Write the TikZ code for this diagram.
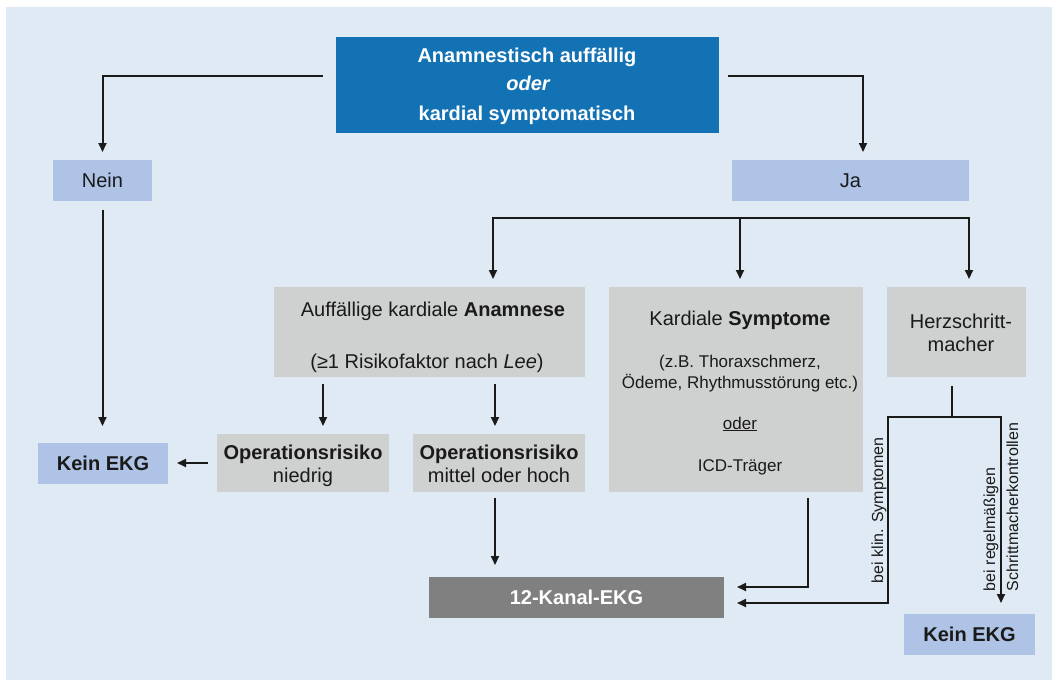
\documentclass[tikz,border=0pt]{standalone}
\usepackage{fontspec}
\setmainfont{Liberation Sans}
\usetikzlibrary{arrows.meta}
\definecolor{panel}{HTML}{E0EAF4}
\definecolor{lblue}{HTML}{AEC3E6}
\definecolor{lgray}{HTML}{CFD0D0}
\definecolor{dgray}{HTML}{808080}
\definecolor{topblue}{HTML}{1372B4}
\definecolor{ink}{HTML}{1A1A1A}
\begin{document}
\begin{tikzpicture}[x=1pt,y=-1pt,
  box/.style={inner sep=0pt,outer sep=0pt,text=ink},
  txt/.style={inner sep=0pt,outer sep=0pt,anchor=base,text=ink},
  fA/.style={font=\fontsize{20}{24}\selectfont},
  fB/.style={font=\fontsize{17}{20}\selectfont},
  fC/.style={font=\fontsize{16}{19}\selectfont},
  conn/.style={draw=ink,line width=2pt},
  arr/.style={conn,-{Triangle[length=9pt,width=8pt]}},
  both/.style={conn,{Triangle[length=9pt,width=8pt]}-{Triangle[length=9pt,width=8pt]}}]
\fill[white] (0,0) rectangle (1052,680);
\useasboundingbox (0,0) rectangle (1052,680);
\fill[panel] (6,7) rectangle (1052,680);

% top box
\node[box,fill=topblue,minimum width=383pt,minimum height=96pt] (top) at (527.5,85) {};
\node[txt,fA,text=white] (topA) at (527,62) {\bfseries Anamnestisch auffällig};
\node[txt,fA,text=white] (topB) at (528,90) {\bfseries\itshape oder};
\node[txt,fA,text=white] (topC) at (527,120) {\bfseries kardial symptomatisch};

% Nein / Ja
\node[box,fA,fill=lblue,minimum width=99pt,minimum height=41pt] (nein) at (102.5,180.5) {Nein};
\node[box,fA,fill=lblue,minimum width=237pt,minimum height=41pt] (ja) at (850.5,180.5) {Ja};

% Kein EKG left
\node[box,fA,fill=lblue,minimum width=130pt,minimum height=41pt] (keinL) at (103,463.5) {\textbf{Kein EKG}};

% Anamnese box
\node[box,fill=lgray,minimum width=311pt,minimum height=90pt] (anam) at (429.5,332) {};
\node[txt,fA] (anamA) at (433,316) {Auffällige kardiale \textbf{Anamnese}};
\node[txt,fA] (anamB) at (427,368) {(≥1 Risikofaktor nach \textit{Lee})};

% Kardiale Symptome box
\node[box,fill=lgray,minimum width=254pt,minimum height=205pt] (kard) at (736,389.5) {};
\node[txt,fA] (kardA) at (740,325) {Kardiale \textbf{Symptome}};
\node[txt,fB] (kardB) at (740,367) {(z.B. Thoraxschmerz,};
\node[txt,fB] (kardC) at (740,388) {Ödeme, Rhythmusstörung etc.)};
\node[txt,fB] (kardD) at (740,429) {\underline{oder}};
\node[txt,fB] (kardE) at (740,471) {ICD-Träger};

% Herzschrittmacher box
\node[box,fill=lgray,minimum width=139pt,minimum height=90pt] (herz) at (956.5,332) {};
\node[txt,fA] (herzA) at (961,328.3) {Herzschritt-};
\node[txt,fA] (herzB) at (961,351.7) {macher};

% Operationsrisiko boxes
\node[box,fill=lgray,minimum width=172pt,minimum height=58pt] (opN) at (303,463) {};
\node[txt,fA] (opNA) at (303,459) {\textbf{Operationsrisiko}};
\node[txt,fA] (opNB) at (303,482.5) {niedrig};
\node[box,fill=lgray,minimum width=172pt,minimum height=58pt] (opM) at (499,463) {};
\node[txt,fA] (opMA) at (499,459) {\textbf{Operationsrisiko}};
\node[txt,fA] (opMB) at (499,482.5) {mittel oder hoch};

% 12-Kanal-EKG
\node[box,fA,fill=dgray,text=white,minimum width=295pt,minimum height=41pt] (ekg) at (576.5,597.5) {\textbf{12-Kanal-EKG}};

% Kein EKG right
\node[box,fA,fill=lblue,minimum width=131pt,minimum height=41pt] (keinR) at (969.5,634.5) {\textbf{Kein EKG}};

% rotated labels
\node[txt,fC,rotate=90,anchor=base west] (lblK) at (883,583) {bei klin. Symptomen};
\node[txt,fC,rotate=90,anchor=base west] (lblR1) at (995,591) {bei regelmäßigen};
\node[txt,fC,rotate=90,anchor=base west] (lblR2) at (1018,591) {Schrittmacherkontrollen};

% connectors
\draw[arr] ([xshift=-13pt,yshift=9pt]top.west) -| ([yshift=8pt]nein.north);
\draw[arr] ([xshift=9pt,yshift=9pt]top.east) -| ([xshift=12.5pt,yshift=8pt]ja.north);
\draw[arr] ([yshift=-9pt]nein.south) -- ([yshift=17pt]nein.south |- keinL.north);

\coordinate (b1) at (493,218);
\coordinate (b2) at (740,218);
\coordinate (b3) at (969,218);
\draw[both] ([yshift=8pt]b1 |- anam.north) -- (b1) -- (b3) -- ([yshift=8pt]b3 |- herz.north);
\draw[arr] (b2) -- ([yshift=8pt]b2 |- kard.north);

\coordinate (a1) at (323,384);
\coordinate (a2) at (495,384);
\draw[arr] (a1) -- ([yshift=8pt]a1 |- opN.north);
\draw[arr] (a2) -- ([yshift=8pt]a2 |- opM.north);

\draw[arr] ([xshift=-9pt]opN.west) -- ([xshift=9pt]keinL.east |- opN.west);

\coordinate (m1) at (495,498);
\draw[arr] (m1) -- ([yshift=12pt]m1 |- ekg.north);

\coordinate (k1) at (808,498);
\draw[arr] (k1) |- ([xshift=13pt,yshift=10.5pt]ekg.east);

\coordinate (h0) at (952,386);
\coordinate (h1) at (952,417);
\coordinate (hL) at (888,417);
\coordinate (hR) at (1001,417);
\draw[conn] (h0) -- (h1);
\draw[both] ([yshift=11pt]hR |- keinR.north) -- (hR) -- (hL) |- ([xshift=13pt,yshift=-5.5pt]ekg.east);
\end{tikzpicture}
\end{document}
